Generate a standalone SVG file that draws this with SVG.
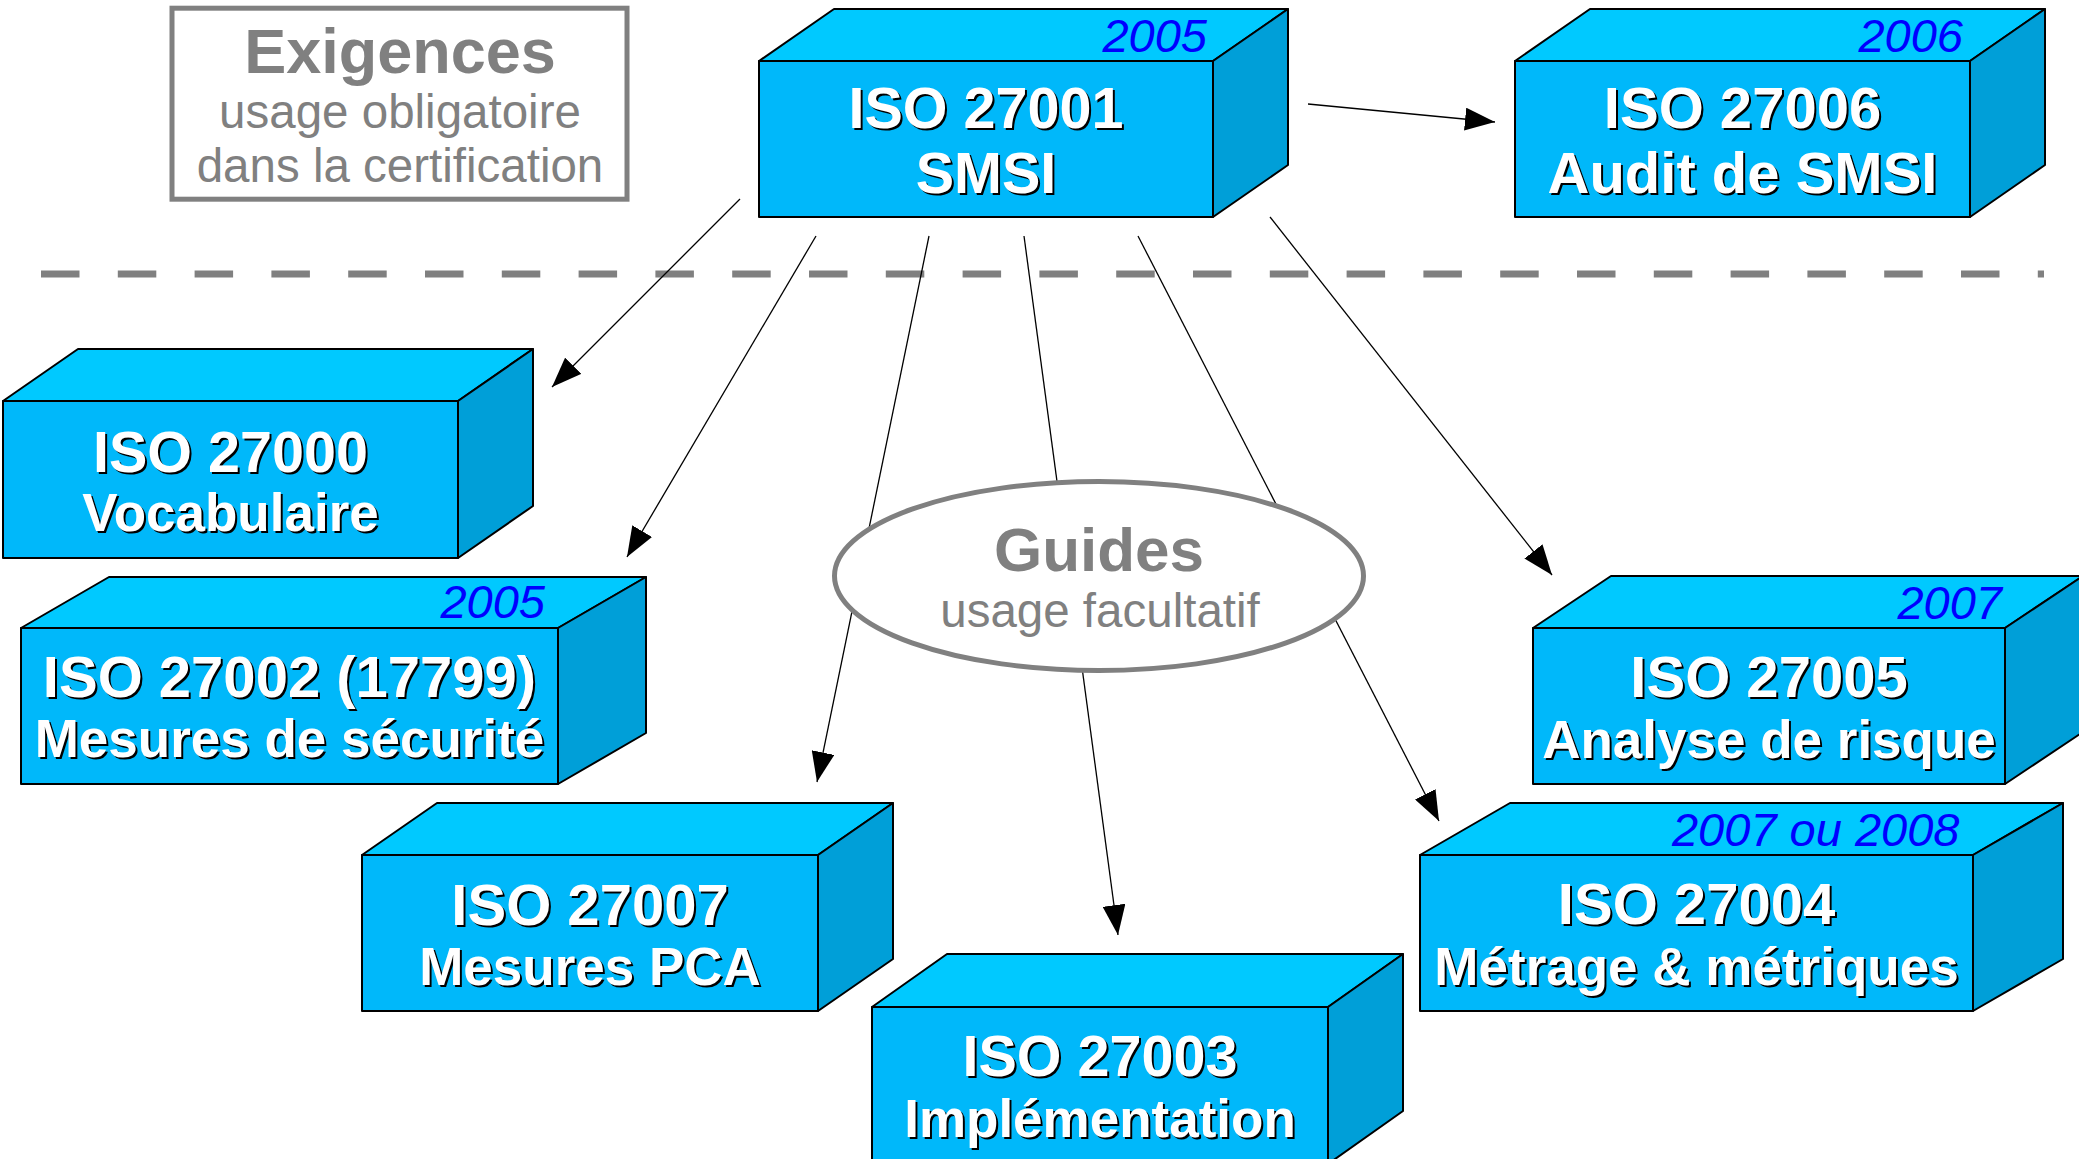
<svg xmlns="http://www.w3.org/2000/svg" width="2079" height="1159" viewBox="0 0 2079 1159">
  <defs>
    <marker id="arrow" markerUnits="userSpaceOnUse" markerWidth="30" markerHeight="23" refX="30" refY="11.5" orient="auto">
      <path d="M0,0 L30,11.5 L0,23 Z" fill="#000"/>
    </marker>
  </defs>
  <style>
    .front { fill: #00b8fa; stroke: #000; stroke-width: 2; stroke-linejoin: round; }
    .top { fill: #00c9ff; stroke: #000; stroke-width: 2; stroke-linejoin: round; }
    .side { fill: #009fd8; stroke: #000; stroke-width: 2; stroke-linejoin: round; }
    .lbl { font-family: "Liberation Sans", Arial, sans-serif; font-weight: bold; text-anchor: middle; fill: #fff; }
    .sh { fill: #000; }
    .yr { font-family: "Liberation Sans", Arial, sans-serif; font-style: italic; font-size: 47px; fill: #0000ff; text-anchor: end; }
    .gt { font-family: "Liberation Sans", Arial, sans-serif; fill: #808080; text-anchor: middle; }
    .conn { stroke: #000; stroke-width: 1.3; fill: none; marker-end: url(#arrow); }
  </style>

  <rect width="2079" height="1159" fill="#fff"/>

  <!-- legend: mandatory requirements -->
  <g id="exigences">
    <rect x="172" y="8.2" width="455" height="191" fill="none" stroke="#808080" stroke-width="5"/>
    <text class="gt" x="400" y="73" font-size="63" font-weight="bold">Exigences</text>
    <text class="gt" x="400" y="128" font-size="47.5">usage obligatoire</text>
    <text class="gt" x="400" y="182" font-size="47.5">dans la certification</text>
  </g>

  <!-- separator -->
  <line x1="41" y1="274" x2="2044" y2="274" stroke="#808080" stroke-width="7" stroke-dasharray="38.5 38.3"/>

  <!-- ISO 27001 -->
  <g id="iso27001">
    <polygon class="top" points="759,61 834,9 1288,9 1213,61"/>
    <polygon class="side" points="1213,61 1288,9 1288,165 1213,217"/>
    <rect class="front" x="759" y="61" width="454" height="156"/>
    <text class="yr" x="1207" y="52">2005</text>
    <g font-size="57.5">
      <text class="lbl sh" x="988" y="130">ISO 27001</text>
      <text class="lbl" x="986" y="128">ISO 27001</text>
      <text class="lbl sh" x="988" y="195">SMSI</text>
      <text class="lbl" x="986" y="193">SMSI</text>
    </g>
  </g>

  <!-- ISO 27006 -->
  <g id="iso27006">
    <polygon class="top" points="1515,61 1590,9 2045,9 1970,61"/>
    <polygon class="side" points="1970,61 2045,9 2045,165 1970,217"/>
    <rect class="front" x="1515" y="61" width="455" height="156"/>
    <text class="yr" x="1963" y="52">2006</text>
    <g font-size="58">
      <text class="lbl sh" x="1744.5" y="130">ISO 27006</text>
      <text class="lbl" x="1742.5" y="128">ISO 27006</text>
      <text class="lbl sh" x="1744.5" y="195">Audit de SMSI</text>
      <text class="lbl" x="1742.5" y="193">Audit de SMSI</text>
    </g>
  </g>

  <!-- ISO 27000 -->
  <g id="iso27000">
    <polygon class="top" points="3,401 78,349 533,349 458,401"/>
    <polygon class="side" points="458,401 533,349 533,506 458,558"/>
    <rect class="front" x="3" y="401" width="455" height="157"/>
    <text class="lbl sh" x="232.5" y="474" font-size="57.5">ISO 27000</text>
    <text class="lbl" x="230.5" y="472" font-size="57.5">ISO 27000</text>
    <text class="lbl sh" x="232.5" y="533" font-size="53">Vocabulaire</text>
    <text class="lbl" x="230.5" y="531" font-size="53">Vocabulaire</text>
  </g>

  <!-- ISO 27002 -->
  <g id="iso27002">
    <polygon class="top" points="21,628 109,577 646,577 558,628"/>
    <polygon class="side" points="558,628 646,577 646,733 558,784"/>
    <rect class="front" x="21" y="628" width="537" height="156"/>
    <text class="yr" x="545" y="618">2005</text>
    <text class="lbl sh" x="291.5" y="699" font-size="58">ISO 27002 (17799)</text>
    <text class="lbl" x="289.5" y="697" font-size="58">ISO 27002 (17799)</text>
    <text class="lbl sh" x="291.5" y="759" font-size="53">Mesures de sécurité</text>
    <text class="lbl" x="289.5" y="757" font-size="53">Mesures de sécurité</text>
  </g>

  <!-- ISO 27005 -->
  <g id="iso27005">
    <polygon class="top" points="1533,628 1611,576 2083,576 2005,628"/>
    <polygon class="side" points="2005,628 2083,576 2083,732 2005,784"/>
    <rect class="front" x="1533" y="628" width="472" height="156"/>
    <text class="yr" x="2002" y="619">2007</text>
    <text class="lbl sh" x="1771" y="699" font-size="58">ISO 27005</text>
    <text class="lbl" x="1769" y="697" font-size="58">ISO 27005</text>
    <text class="lbl sh" x="1771" y="760" font-size="53">Analyse de risque</text>
    <text class="lbl" x="1769" y="758" font-size="53">Analyse de risque</text>
  </g>

  <!-- ISO 27004 -->
  <g id="iso27004">
    <polygon class="top" points="1420,855 1510,803 2063,803 1973,855"/>
    <polygon class="side" points="1973,855 2063,803 2063,959 1973,1011"/>
    <rect class="front" x="1420" y="855" width="553" height="156"/>
    <text class="yr" x="1959.5" y="846">2007 ou 2008</text>
    <text class="lbl sh" x="1698.5" y="926" font-size="58">ISO 27004</text>
    <text class="lbl" x="1696.5" y="924" font-size="58">ISO 27004</text>
    <text class="lbl sh" x="1698.5" y="987" font-size="53">Métrage &amp; métriques</text>
    <text class="lbl" x="1696.5" y="985" font-size="53">Métrage &amp; métriques</text>
  </g>

  <!-- ISO 27007 -->
  <g id="iso27007">
    <polygon class="top" points="362,855 437,803 893,803 818,855"/>
    <polygon class="side" points="818,855 893,803 893,959 818,1011"/>
    <rect class="front" x="362" y="855" width="456" height="156"/>
    <text class="lbl sh" x="592" y="927" font-size="58">ISO 27007</text>
    <text class="lbl" x="590" y="925" font-size="58">ISO 27007</text>
    <text class="lbl sh" x="592" y="987" font-size="53">Mesures PCA</text>
    <text class="lbl" x="590" y="985" font-size="53">Mesures PCA</text>
  </g>

  <!-- ISO 27003 -->
  <g id="iso27003">
    <polygon class="top" points="872,1007 947,954 1403,954 1328,1007"/>
    <polygon class="side" points="1328,1007 1403,954 1403,1111 1328,1164"/>
    <rect class="front" x="872" y="1007" width="456" height="157"/>
    <text class="lbl sh" x="1102" y="1078" font-size="57.5">ISO 27003</text>
    <text class="lbl" x="1100" y="1076" font-size="57.5">ISO 27003</text>
    <text class="lbl sh" x="1102" y="1139" font-size="53">Implémentation</text>
    <text class="lbl" x="1100" y="1137" font-size="53">Implémentation</text>
  </g>

  <!-- connectors -->
  <g id="connectors">
    <line class="conn" x1="1308" y1="104" x2="1495" y2="122"/>
    <line class="conn" x1="740" y1="199" x2="552" y2="387"/>
    <line class="conn" x1="816" y1="236" x2="627" y2="557"/>
    <line class="conn" x1="929" y1="236" x2="817" y2="782"/>
    <line class="conn" x1="1024" y1="236" x2="1118" y2="935"/>
    <line class="conn" x1="1138" y1="236" x2="1439" y2="821"/>
    <line class="conn" x1="1270" y1="217" x2="1552" y2="575"/>
  </g>

  <!-- legend: optional guides -->
  <g id="guides">
    <ellipse cx="1099" cy="576" rx="264.5" ry="94.5" fill="#fff" stroke="#808080" stroke-width="5"/>
    <text class="gt" x="1099" y="571" font-size="62" font-weight="bold">Guides</text>
    <text class="gt" x="1100" y="627" font-size="47.5">usage facultatif</text>
  </g>
</svg>
